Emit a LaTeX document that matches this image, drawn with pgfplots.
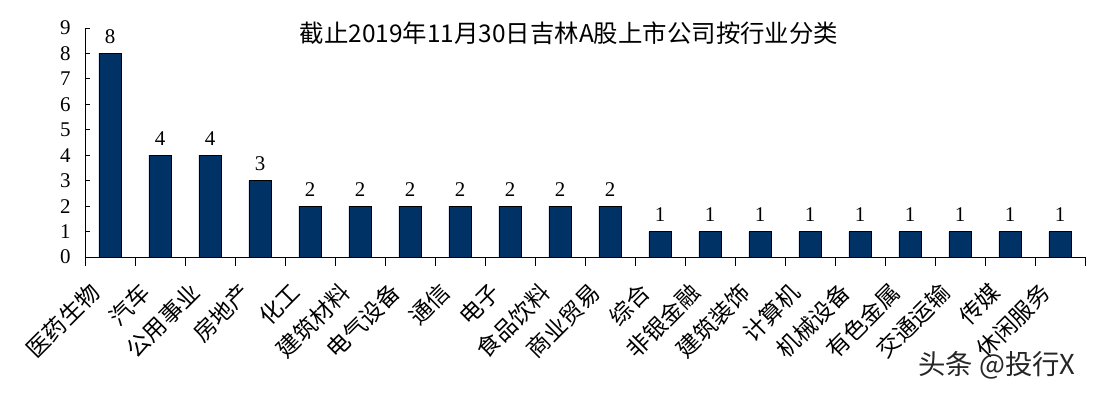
\documentclass[border=0pt]{standalone}
\usepackage{fontspec}
\setmainfont{Liberation Serif}
\newfontfamily\cjk{Noto Sans CJK SC}
\usepackage{pgfplots}
\pgfplotsset{compat=1.18}
\definecolor{barblue}{RGB}{0,50,102}
\begin{document}
\begin{tikzpicture}
\path[use as bounding box] (-85bp,-137bp) rectangle (1011bp,257bp);
\begin{axis}[
  at={(0,0)}, anchor=south west,
  scale only axis, width=1000bp, height=229bp,
  xmin=-0.5, xmax=19.5, ymin=0, ymax=9,
  axis x line*=bottom, axis y line*=left,
  axis line style={black, line width=0.9bp, -},
  every tick/.style={black, line width=0.9bp},
  tick align=inside,
  ytick={0,1,...,9},
  major tick length=5bp,
  minor tick length=9bp,
  xtick={0,1,...,19},
  major x tick style={draw=none},
  minor xtick={-0.5,0.5,...,19.5},
  xticklabels={医药生物,汽车,公用事业,房地产,化工,建筑材料,电气设备,通信,电子,食品饮料,商业贸易,综合,非银金融,建筑装饰,计算机,机械设备,有色金属,交通运输,传媒,休闲服务},
  xticklabel style={font=\cjk\fontsize{23}{26}\selectfont, xshift=-22bp, yshift=-14bp, rotate=45, anchor=north east},
  yticklabel style={font=\fontsize{21}{24}\selectfont, xshift=-11bp},
  /pgf/number format/assume math mode=true,
  ybar, bar width=22bp,
  nodes near coords,
  every node near coord/.append style={font=\fontsize{21}{24}\selectfont, black, yshift=6bp},
  clip=false,
]
\addplot[fill=barblue, draw=black, line width=0.5bp] coordinates {
(0,8) (1,4) (2,4) (3,3) (4,2) (5,2) (6,2) (7,2) (8,2) (9,2) (10,2)
(11,1) (12,1) (13,1) (14,1) (15,1) (16,1) (17,1) (18,1) (19,1)};
\end{axis}
\node[font=\cjk\fontsize{24.5}{28}\selectfont] at (484bp,224bp) {截止2019年11月30日吉林A股上市公司按行业分类};
\node[font=\cjk\fontsize{27.5}{31}\selectfont, text=black!85] at (912bp,-108bp) {头条 @投行X};
\end{tikzpicture}
\end{document}
